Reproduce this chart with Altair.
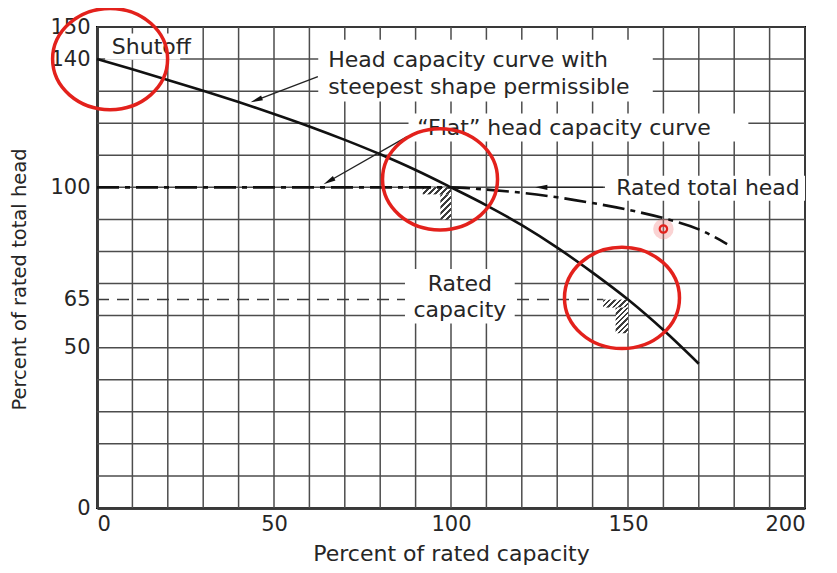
import altair as alt
import pandas as pd

# ---- data ----
steep_x = [0, 10, 20, 30, 40, 50, 60, 70, 80, 90, 100, 110, 120, 130, 140, 150, 160, 170]
steep_y = [140, 136.8, 133.5, 130.1, 126.6, 122.9, 119.0, 114.8, 110.3, 105.4, 100, 94.4, 88.2, 81.2, 73.4, 65.0, 55.5, 45.0]

flat_x = [0, 20, 40, 60, 80, 100, 110, 120, 130, 140, 150, 160, 170, 178]
flat_y = [100, 100, 100, 100, 100, 100, 99.3, 98.3, 96.9, 95.1, 93.0, 90.4, 86.9, 82.3]

rated65_x = [0, 143]
rated65_y = [65, 65]

x_grid = list(range(0, 201, 10))
y_grid = list(range(0, 151, 10))
x_ticks = [0, 50, 100, 150, 200]
y_ticks = [0, 50, 65, 100, 140, 150]

# annotation texts
lbl_left_text = ["Shutoff", "Head capacity curve with", "steepest shape permissible", "\u201cFlat\u201d head capacity curve"]
lbl_left_x = [4.2, 65.3, 65.3, 90.5]
lbl_left_y = [143.8, 139.8, 131.4, 118.6]

lbl_center_text = ["Rated total head", "Rated", "capacity"]
lbl_center_x = [172.6, 102.5, 102.5]
lbl_center_y = [99.7, 69.9, 61.6]

# white label backgrounds (data units)
box_x = [2.3, 62.5, 88, 143.5, 87]
box_x2 = [23.5, 157, 184, 200, 118]
box_y = [139.8, 126.8, 114.3, 95.8, 57.5]
box_y2 = [148, 146, 123, 103.6, 74.5]

# hatched tolerance marks
hatch_x = [92, 97, 143, 146.5]
hatch_x2 = [100, 100, 150, 150]
hatch_y = [97.8, 90, 62.5, 54.5]
hatch_y2 = [100, 97.8, 65, 62.5]

# arrows: tail -> head
arr_x = [62.4, 87.6, 143.0]
arr_y = [134.5, 115.8, 100.0]
arr_x2 = [45.0, 65.5, 125.5]
arr_y2 = [127.2, 101.9, 100.0]
arr_angle = [249, 240, 270]

# red highlight circles
red_x = [3.7, 96.9, 148.3]
red_y = [140, 102.5, 65.5]
red_dot_x = [160]
red_dot_y = [87]

# ---- layout ----
W, H = 708, 481
xs = alt.Scale(domain=[0, 200], nice=False, zero=False)
ys = alt.Scale(domain=[0, 150], nice=False, zero=False)
FONT = "DejaVu Sans"
TXT = "#262626"

grid_v = alt.Chart(pd.DataFrame({"g": x_grid})).mark_rule(color="#4d4d4d", strokeWidth=1.5).encode(
    x=alt.X("g:Q", scale=xs, axis=alt.Axis(values=x_ticks, grid=False, ticks=False, labelFont=FONT,
                                           labelFontSize=21, labelColor=TXT, labelPadding=5,
                                           domainColor="black", domainWidth=2.5,
                                           title="Percent of rated capacity", titleFont=FONT,
                                           titleFontSize=22, titleFontWeight="normal", titleColor=TXT,
                                           titlePadding=9)),
    y=alt.value(0), y2=alt.value(H))

grid_h = alt.Chart(pd.DataFrame({"g": y_grid})).mark_rule(color="#4d4d4d", strokeWidth=1.5).encode(
    y=alt.Y("g:Q", scale=ys, axis=alt.Axis(values=y_ticks, grid=False, ticks=False, labelFont=FONT,
                                           labelFontSize=21, labelColor=TXT, labelPadding=7,
                                           domainColor="black", domainWidth=2.5,
                                           title="Percent of rated total head", titleFont=FONT,
                                           titleFontSize=19.5, titleFontWeight="normal", titleColor=TXT,
                                           titlePadding=20, titleY=252)),
    x=alt.value(0), x2=alt.value(W))

dash65 = alt.Chart(pd.DataFrame({"x": rated65_x, "y": rated65_y})).mark_line(
    color="#3a3a3a", strokeWidth=1.6, strokeDash=[12, 8]).encode(
    x=alt.X("x:Q", scale=xs), y=alt.Y("y:Q", scale=ys))

boxes = alt.Chart(pd.DataFrame({"x": box_x, "x2": box_x2, "y": box_y, "y2": box_y2})).mark_rect(
    color="white").encode(x=alt.X("x:Q", scale=xs), x2="x2:Q", y=alt.Y("y:Q", scale=ys), y2="y2:Q")


def hatch_gradient(x0, x1, y0, y1):
    w = (x1 - x0) * W / 200.0
    h = (y1 - y0) * H / 150.0
    k = (w + h) / (w * w + h * h)
    n = max(4, int(round((w + h) / 5.6)))
    stops = []
    for i in range(n):
        a = i / n
        b = (i + 0.45) / n
        c = (i + 1) / n
        stops += [alt.GradientStop(offset=a, color="#3c3c3c"), alt.GradientStop(offset=b, color="#3c3c3c"),
                  alt.GradientStop(offset=b, color="white"), alt.GradientStop(offset=c, color="white")]
    return alt.LinearGradient(gradient="linear", stops=stops, x1=0, y1=0, x2=k * w, y2=k * h)


hatch_layers = []
for hx, hx2, hy, hy2 in zip(hatch_x, hatch_x2, hatch_y, hatch_y2):
    hatch_layers.append(
        alt.Chart(pd.DataFrame({"x": [hx], "x2": [hx2], "y": [hy2], "y2": [hy]})).mark_rect(
            color=hatch_gradient(hx, hx2, hy, hy2)).encode(
            x=alt.X("x:Q", scale=xs), x2="x2:Q", y=alt.Y("y:Q", scale=ys), y2="y2:Q"))

steep = alt.Chart(pd.DataFrame({"x": steep_x, "y": steep_y})).mark_line(
    color="#111", strokeWidth=2.6, interpolate="monotone").encode(
    x=alt.X("x:Q", scale=xs), y=alt.Y("y:Q", scale=ys))

flat = alt.Chart(pd.DataFrame({"x": flat_x, "y": flat_y})).mark_line(
    color="#111", strokeWidth=2.6, strokeDash=[22, 6, 5, 6], interpolate="monotone").encode(
    x=alt.X("x:Q", scale=xs), y=alt.Y("y:Q", scale=ys))

arr_df = pd.DataFrame({"x": arr_x, "y": arr_y, "x2": arr_x2, "y2": arr_y2, "a": arr_angle})
arr_lines = alt.Chart(arr_df).mark_rule(color="#222", strokeWidth=1.4).encode(
    x=alt.X("x:Q", scale=xs), y=alt.Y("y:Q", scale=ys), x2="x2:Q", y2="y2:Q")
arr_heads = alt.Chart(arr_df).mark_point(
    shape="M0,-1L0.42,1L-0.42,1Z", filled=True, color="#111", size=150, opacity=1).encode(
    x=alt.X("x2:Q", scale=xs), y=alt.Y("y2:Q", scale=ys), angle=alt.Angle("a:Q", scale=None))

txt_left = alt.Chart(pd.DataFrame({"t": lbl_left_text, "x": lbl_left_x, "y": lbl_left_y})).mark_text(
    align="left", baseline="middle", font=FONT, fontSize=22, color=TXT).encode(
    x=alt.X("x:Q", scale=xs), y=alt.Y("y:Q", scale=ys), text="t:N")
txt_center = alt.Chart(pd.DataFrame({"t": lbl_center_text, "x": lbl_center_x, "y": lbl_center_y})).mark_text(
    align="center", baseline="middle", font=FONT, fontSize=22, color=TXT).encode(
    x=alt.X("x:Q", scale=xs), y=alt.Y("y:Q", scale=ys), text="t:N")

red = alt.Chart(pd.DataFrame({"x": red_x, "y": red_y})).mark_point(
    shape="M-1,0A1,0.88 0 1 1 1,0A1,0.88 0 1 1 -1,0Z", filled=False, color="#e3211c",
    strokeWidth=3.5, size=13225, opacity=1).encode(
    x=alt.X("x:Q", scale=xs), y=alt.Y("y:Q", scale=ys))

dot_df = pd.DataFrame({"x": red_dot_x, "y": red_dot_y})
red_glow = alt.Chart(dot_df).mark_point(shape="circle", filled=True, color="#f08080", size=420, opacity=0.35).encode(
    x=alt.X("x:Q", scale=xs), y=alt.Y("y:Q", scale=ys))
red_dot = alt.Chart(dot_df).mark_point(shape="circle", filled=False, color="#e3211c", size=55,
                                       strokeWidth=2.2, opacity=1).encode(
    x=alt.X("x:Q", scale=xs), y=alt.Y("y:Q", scale=ys))

chart = alt.layer(grid_v, grid_h, dash65, boxes, *hatch_layers, steep, flat, arr_lines, arr_heads,
                  txt_left, txt_center, red_glow, red_dot, red).properties(
    width=W, height=H,
    autosize=alt.AutoSizeParams(type="none"),
    padding={"left": 89, "top": 19, "right": 24, "bottom": 57},
    background="white",
).configure_view(stroke="black", strokeWidth=2)

chart.save("out.html", embed_options={"renderer": "svg", "actions": False})
